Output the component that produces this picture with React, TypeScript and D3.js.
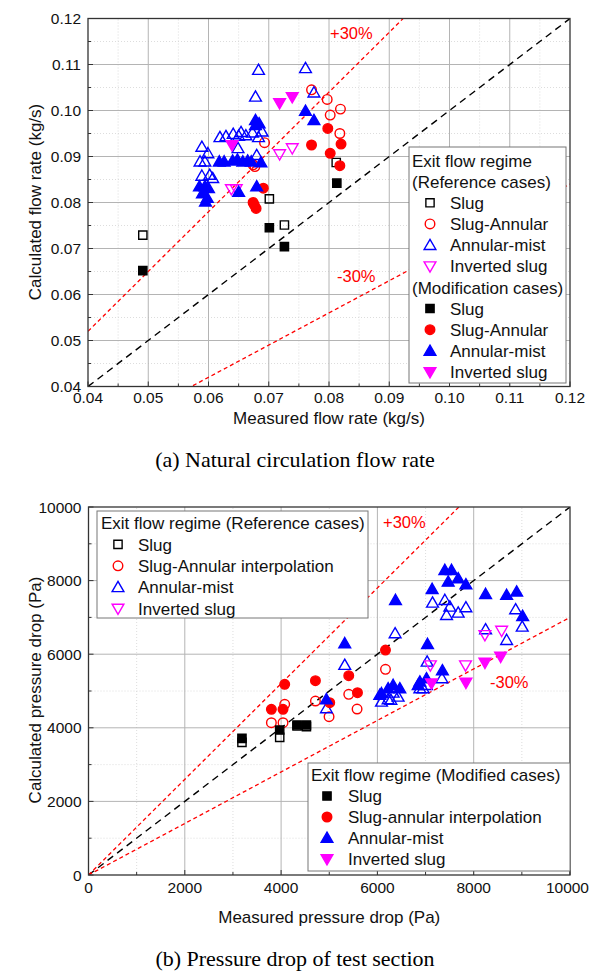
import React from 'react';
import * as d3 from 'd3';

type Pt = [number, number];

// ---------- Panel (a): natural circulation flow rate ----------
const flowTicks = [0.04, 0.05, 0.06, 0.07, 0.08, 0.09, 0.1, 0.11, 0.12];
const flowTickLabels = ['0.04', '0.05', '0.06', '0.07', '0.08', '0.09', '0.10', '0.11', '0.12'];

const flowRefSlug: Pt[] = [[0.0491, 0.0729], [0.0701, 0.0808], [0.0726, 0.0751], [0.0812, 0.0887]];
const flowRefSlugAnnular: Pt[] = [
  [0.0693, 0.093], [0.0674, 0.0882], [0.0677, 0.0878], [0.0771, 0.1045], [0.0797, 0.1024],
  [0.0819, 0.1003], [0.0802, 0.099], [0.0818, 0.095],
];
const flowRefAnnularMist: Pt[] = [
  [0.0683, 0.1088], [0.0761, 0.1092], [0.0678, 0.103], [0.0775, 0.1039],
  [0.0619, 0.0942], [0.0629, 0.0944], [0.0641, 0.0949], [0.0654, 0.0953], [0.0662, 0.0946],
  [0.0673, 0.0952], [0.0683, 0.0942], [0.0689, 0.0954], [0.065, 0.0945],
  [0.0589, 0.0921], [0.0599, 0.0907], [0.0649, 0.0918], [0.068, 0.0903], [0.0586, 0.0889],
  [0.0594, 0.0889], [0.0589, 0.0858], [0.0602, 0.086], [0.0607, 0.0853],
];
const flowRefInverted: Pt[] = [[0.0718, 0.0905], [0.0739, 0.0918], [0.0638, 0.0829], [0.0646, 0.0829]];

const flowModSlug: Pt[] = [[0.0491, 0.0652], [0.0701, 0.0745], [0.0726, 0.0704], [0.0813, 0.0842]];
const flowModSlugAnnular: Pt[] = [
  [0.0771, 0.0925], [0.0798, 0.0961], [0.0802, 0.0907], [0.082, 0.0927], [0.0818, 0.088],
  [0.0691, 0.0831], [0.0674, 0.08], [0.0676, 0.0795], [0.0679, 0.0787],
];
const flowModAnnularMist: Pt[] = [
  [0.0678, 0.0979], [0.0678, 0.0968], [0.0684, 0.0972], [0.0761, 0.0999], [0.0775, 0.0979],
  [0.0618, 0.0889], [0.0626, 0.0889], [0.064, 0.0891], [0.0648, 0.0893], [0.0657, 0.0889],
  [0.0665, 0.0891], [0.0671, 0.0889], [0.0687, 0.0887],
  [0.0585, 0.0835], [0.0594, 0.0835], [0.06, 0.0831], [0.059, 0.082], [0.0595, 0.0802],
  [0.0598, 0.081], [0.068, 0.0835], [0.065, 0.0823],
];
const flowModInverted: Pt[] = [[0.0718, 0.1016], [0.0739, 0.1029], [0.0639, 0.0925]];

// ---------- Panel (b): pressure drop ----------
const dpTicks = [0, 2000, 4000, 6000, 8000, 10000];
const dpTickLabels = ['0', '2000', '4000', '6000', '8000', '10000'];

const dpRefSlug: Pt[] = [[3187, 3605], [3971, 3741], [4331, 4048], [4526, 4030]];
const dpRefSlugAnnular: Pt[] = [
  [3798, 4138], [4040, 4138], [4075, 4638], [4713, 4728], [4996, 4301], [5405, 4910],
  [5578, 4510], [6168, 5589],
];
const dpRefAnnularMist: Pt[] = [
  [4941, 4529], [5322, 5706], [7401, 7472], [7145, 7399], [7505, 7290], [7678, 7127],
  [7436, 7064], [7838, 7273], [8871, 7219], [9008, 6746], [6368, 6567], [8247, 6676],
  [8684, 6385], [7033, 5796], [7340, 5344], [6085, 4709], [6223, 4774], [6327, 4953],
  [6430, 4845], [6280, 4755], [6882, 5072], [7020, 5162], [6950, 5072],
];
const dpRefInverted: Pt[] = [[8233, 6521], [8580, 6638], [7100, 5700], [7830, 5700]];

const dpModSlug: Pt[] = [[3187, 3714], [3971, 3940], [4331, 4075], [4526, 4075]];
const dpModSlugAnnular: Pt[] = [
  [3798, 4502], [4040, 4502], [4075, 5181], [4713, 5280], [5010, 4681], [5405, 5416],
  [5586, 4953], [6168, 6113],
];
const dpModAnnularMist: Pt[] = [
  [4941, 4774], [5322, 6296], [7401, 8287], [7540, 8287], [7470, 7969], [7678, 8061],
  [7838, 7898], [7137, 7771], [6376, 7472], [8247, 7635], [8684, 7608], [8892, 7698],
  [9017, 7037], [7041, 6276], [7350, 5560], [6050, 4891], [6085, 4937], [6223, 5072],
  [6327, 5162], [6466, 5072], [6882, 5252], [7020, 5344], [6847, 5162],
];
const dpModInverted: Pt[] = [[8233, 5769], [8559, 5932], [7838, 5225], [7124, 5208]];

// ---------- styles ----------
const BLACK = '#000000';
const RED = '#ff0000';
const BLUE = '#0000ff';
const MAGENTA = '#ff00ff';
const SANS = '"Liberation Sans", Arial, sans-serif';
const SERIF = '"Liberation Serif", "Times New Roman", serif';
const PAGE_W = 590;

type Shape = 'square' | 'circle' | 'up' | 'down';
interface Series { data: Pt[]; shape: Shape; color: string; filled: boolean; }

function markerPath(shape: Shape): string {
  const sym =
    shape === 'square' ? d3.symbolSquare :
    shape === 'circle' ? d3.symbolCircle : d3.symbolTriangle;
  const size = shape === 'square' ? 68 : shape === 'circle' ? 72 : 60;
  return d3.symbol().type(sym).size(size)() as string;
}

function Marker({ x, y, shape, color, filled }: { x: number; y: number; shape: Shape; color: string; filled: boolean }) {
  const rot = shape === 'down' ? ' rotate(180)' : '';
  const dy = shape === 'up' ? 1 : shape === 'down' ? -1 : 0;
  return (
    <path
      d={markerPath(shape)}
      transform={`translate(${x},${y + dy})${rot}`}
      fill={filled ? color : 'none'}
      stroke={color}
      strokeWidth={1.4}
    />
  );
}

interface LegendRow { kind: 'title' | 'item'; text: string; series?: Series; }

interface PanelProps {
  id: string;
  xDomain: [number, number];
  xRange: [number, number];
  yRange: [number, number];
  ticks: number[];
  tickLabels: string[];
  minor: number[];
  series: Series[];
  xTitle: string;
  yTitle: string;
  xTitleY: number;
  tickLabelY: number;
  yTitleCenter: number;
  caption: string;
  captionY: number;
  plus: [number, number];
  minus: [number, number];
  legends: { box: [number, number, number, number]; rows: LegendRow[]; rowY0: number; rowDy: number; titleX: number; markerX: number; textX: number }[];
}

function Panel(p: PanelProps) {
  const x = d3.scaleLinear().domain(p.xDomain).range(p.xRange);
  const y = d3.scaleLinear().domain(p.xDomain).range(p.yRange);
  const [x0, x1] = p.xRange;
  const [y0, y1] = p.yRange; // y0 bottom, y1 top
  const lo = p.xDomain[0], hi = p.xDomain[1];
  const line = d3.line<Pt>().x(d => x(d[0])).y(d => y(d[1]));
  const clipId = `clip-${p.id}`;
  const tickFont = 15.5;
  return (
    <g>
      <defs>
        <clipPath id={clipId}>
          <rect x={x0} y={y1} width={x1 - x0} height={y0 - y1} />
        </clipPath>
      </defs>
      <rect x={x0} y={y1} width={x1 - x0} height={y0 - y1} fill="#fff" />
      {/* minor grid */}
      {p.minor.map((v, i) => (
        <g key={`mg${i}`}>
          <line x1={x(v)} x2={x(v)} y1={y0} y2={y1} stroke="#d4d4d4" strokeWidth={0.8} strokeDasharray="1,2" />
          <line x1={x0} x2={x1} y1={y(v)} y2={y(v)} stroke="#d4d4d4" strokeWidth={0.8} strokeDasharray="1,2" />
        </g>
      ))}
      {/* major grid */}
      {p.ticks.slice(1, -1).map((v, i) => (
        <g key={`g${i}`}>
          <line x1={x(v)} x2={x(v)} y1={y0} y2={y1} stroke="#b4b4b4" strokeWidth={1} />
          <line x1={x0} x2={x1} y1={y(v)} y2={y(v)} stroke="#b4b4b4" strokeWidth={1} />
        </g>
      ))}
      {/* reference lines */}
      <g clipPath={`url(#${clipId})`}>
        <path d={line([[lo, lo], [hi, hi]]) as string} stroke="#000" strokeWidth={1.4} strokeDasharray="7,5" fill="none" />
        <path d={line([[lo, lo * 1.3], [hi, hi * 1.3]]) as string} stroke={RED} strokeWidth={1.3} strokeDasharray="4,3" fill="none" />
        <path d={line([[lo, lo * 0.7], [hi, hi * 0.7]]) as string} stroke={RED} strokeWidth={1.3} strokeDasharray="4,3" fill="none" />
      </g>
      {/* markers */}
      {p.series.map((s, si) => (
        <g key={`s${si}`}>
          {s.data.map((d, i) => (
            <Marker key={i} x={x(d[0])} y={y(d[1])} shape={s.shape} color={s.color} filled={s.filled} />
          ))}
        </g>
      ))}
      {/* ticks */}
      {p.ticks.map((v, i) => {
        const label = p.tickLabels[i];
        const halfW = label.length * 0.556 * tickFont / 2;
        const overflow = x(v) + halfW > PAGE_W - 1;
        return (
          <g key={`t${i}`}>
            <line x1={x(v)} x2={x(v)} y1={y0} y2={y0 - 5} stroke="#333" strokeWidth={1} />
            <line x1={x0} x2={x0 + 5} y1={y(v)} y2={y(v)} stroke="#333" strokeWidth={1} />
            <text
              x={overflow ? PAGE_W - 1 : x(v)}
              y={p.tickLabelY}
              textAnchor={overflow ? 'end' : 'middle'}
              fontFamily={SANS}
              fontSize={tickFont}
              fill="#111"
            >{label}</text>
            <text x={x0 - 7} y={y(v)} dy="0.36em" textAnchor="end" fontFamily={SANS} fontSize={tickFont} fill="#111">{label}</text>
          </g>
        );
      })}
      {p.minor.map((v, i) => (
        <g key={`mt${i}`}>
          <line x1={x(v)} x2={x(v)} y1={y0} y2={y0 - 3} stroke="#333" strokeWidth={1} />
          <line x1={x0} x2={x0 + 3} y1={y(v)} y2={y(v)} stroke="#333" strokeWidth={1} />
        </g>
      ))}
      {/* frame */}
      <rect x={x0} y={y1} width={x1 - x0} height={y0 - y1} fill="none" stroke="#333" strokeWidth={1.3} />
      {/* annotations */}
      <text x={p.plus[0]} y={p.plus[1]} fontFamily={SANS} fontSize={16.5} fill={RED}>+30%</text>
      <text x={p.minus[0]} y={p.minus[1]} fontFamily={SANS} fontSize={16.5} fill={RED}>-30%</text>
      {/* legends */}
      {p.legends.map((lg, li) => (
        <g key={`lg${li}`}>
          <rect x={lg.box[0]} y={lg.box[1]} width={lg.box[2] - lg.box[0]} height={lg.box[3] - lg.box[1]} fill="#fff" stroke="#777" strokeWidth={1} />
          {lg.rows.map((r, ri) => {
            const cy = lg.rowY0 + ri * lg.rowDy;
            if (r.kind === 'title') {
              return <text key={ri} x={lg.titleX} y={cy} dy="0.36em" fontFamily={SANS} fontSize={17} fill="#111">{r.text}</text>;
            }
            const s = r.series as Series;
            return (
              <g key={ri}>
                <Marker x={lg.markerX} y={cy} shape={s.shape} color={s.color} filled={s.filled} />
                <text x={lg.textX} y={cy} dy="0.36em" fontFamily={SANS} fontSize={17} fill="#111">{r.text}</text>
              </g>
            );
          })}
        </g>
      ))}
      {/* titles */}
      <text x={(x0 + x1) / 2} y={p.xTitleY} textAnchor="middle" fontFamily={SANS} fontSize={17} fill="#111">{p.xTitle}</text>
      <text transform={`translate(41,${p.yTitleCenter}) rotate(-90)`} textAnchor="middle" fontFamily={SANS} fontSize={17} fill="#111">{p.yTitle}</text>
      <text x={295} y={p.captionY} textAnchor="middle" fontFamily={SERIF} fontSize={22} fill="#000">{p.caption}</text>
    </g>
  );
}

export default function App() {
  const fRefSlug: Series = { data: flowRefSlug, shape: 'square', color: BLACK, filled: false };
  const fRefSA: Series = { data: flowRefSlugAnnular, shape: 'circle', color: RED, filled: false };
  const fRefAM: Series = { data: flowRefAnnularMist, shape: 'up', color: BLUE, filled: false };
  const fRefInv: Series = { data: flowRefInverted, shape: 'down', color: MAGENTA, filled: false };
  const fModSlug: Series = { data: flowModSlug, shape: 'square', color: BLACK, filled: true };
  const fModSA: Series = { data: flowModSlugAnnular, shape: 'circle', color: RED, filled: true };
  const fModAM: Series = { data: flowModAnnularMist, shape: 'up', color: BLUE, filled: true };
  const fModInv: Series = { data: flowModInverted, shape: 'down', color: MAGENTA, filled: true };

  const pRefSlug: Series = { data: dpRefSlug, shape: 'square', color: BLACK, filled: false };
  const pRefSA: Series = { data: dpRefSlugAnnular, shape: 'circle', color: RED, filled: false };
  const pRefAM: Series = { data: dpRefAnnularMist, shape: 'up', color: BLUE, filled: false };
  const pRefInv: Series = { data: dpRefInverted, shape: 'down', color: MAGENTA, filled: false };
  const pModSlug: Series = { data: dpModSlug, shape: 'square', color: BLACK, filled: true };
  const pModSA: Series = { data: dpModSlugAnnular, shape: 'circle', color: RED, filled: true };
  const pModAM: Series = { data: dpModAnnularMist, shape: 'up', color: BLUE, filled: true };
  const pModInv: Series = { data: dpModInverted, shape: 'down', color: MAGENTA, filled: true };

  const flowMinor = flowTicks.slice(0, -1).map((v, i) => (v + flowTicks[i + 1]) / 2);
  const dpMinor = dpTicks.slice(0, -1).map((v, i) => (v + dpTicks[i + 1]) / 2);

  return (
    <svg width={590} height={974} style={{ position: 'absolute', left: 0, top: 0, display: 'block', background: '#fff' }}>
      <rect x={0} y={0} width={590} height={974} fill="#fff" />
      <Panel
        id="a"
        xDomain={[0.04, 0.12]}
        xRange={[88, 570]}
        yRange={[386.5, 18.5]}
        ticks={flowTicks}
        tickLabels={flowTickLabels}
        minor={flowMinor}
        series={[fRefSlug, fRefSA, fRefAM, fRefInv, fModSlug, fModSA, fModAM, fModInv]}
        xTitle="Measured flow rate (kg/s)"
        yTitle="Calculated flow rate (kg/s)"
        xTitleY={424}
        tickLabelY={403}
        yTitleCenter={202}
        caption="(a) Natural circulation flow rate"
        captionY={467}
        plus={[330, 39]}
        minus={[337, 282]}
        legends={[{
          box: [409, 147, 566, 383],
          rowY0: 160.5,
          rowDy: 21.15,
          titleX: 412,
          markerX: 430,
          textX: 450,
          rows: [
            { kind: 'title', text: 'Exit flow regime' },
            { kind: 'title', text: '(Reference cases)' },
            { kind: 'item', text: 'Slug', series: fRefSlug },
            { kind: 'item', text: 'Slug-Annular', series: fRefSA },
            { kind: 'item', text: 'Annular-mist', series: fRefAM },
            { kind: 'item', text: 'Inverted slug', series: fRefInv },
            { kind: 'title', text: '(Modification cases)' },
            { kind: 'item', text: 'Slug', series: fModSlug },
            { kind: 'item', text: 'Slug-Annular', series: fModSA },
            { kind: 'item', text: 'Annular-mist', series: fModAM },
            { kind: 'item', text: 'Inverted slug', series: fModInv },
          ],
        }]}
      />
      <Panel
        id="b"
        xDomain={[0, 10000]}
        xRange={[88.5, 570]}
        yRange={[875, 507]}
        ticks={dpTicks}
        tickLabels={dpTickLabels}
        minor={dpMinor}
        series={[pRefSlug, pRefSA, pRefAM, pRefInv, pModSlug, pModSA, pModAM, pModInv]}
        xTitle="Measured pressure drop (Pa)"
        yTitle="Calculated pressure drop (Pa)"
        xTitleY={923}
        tickLabelY={893}
        yTitleCenter={690}
        caption="(b) Pressure drop of test section"
        captionY={966}
        plus={[383, 528]}
        minus={[490, 688]}
        legends={[
          {
            box: [97, 511, 368, 618],
            rowY0: 523,
            rowDy: 21.4,
            titleX: 101,
            markerX: 118,
            textX: 138,
            rows: [
              { kind: 'title', text: 'Exit flow regime (Reference cases)' },
              { kind: 'item', text: 'Slug', series: pRefSlug },
              { kind: 'item', text: 'Slug-Annular interpolation', series: pRefSA },
              { kind: 'item', text: 'Annular-mist', series: pRefAM },
              { kind: 'item', text: 'Inverted slug', series: pRefInv },
            ],
          },
          {
            box: [308, 763, 570, 871],
            rowY0: 775,
            rowDy: 21,
            titleX: 311,
            markerX: 327,
            textX: 348,
            rows: [
              { kind: 'title', text: 'Exit flow regime (Modified cases)' },
              { kind: 'item', text: 'Slug', series: pModSlug },
              { kind: 'item', text: 'Slug-annular interpolation', series: pModSA },
              { kind: 'item', text: 'Annular-mist', series: pModAM },
              { kind: 'item', text: 'Inverted slug', series: pModInv },
            ],
          },
        ]}
      />
    </svg>
  );
}
